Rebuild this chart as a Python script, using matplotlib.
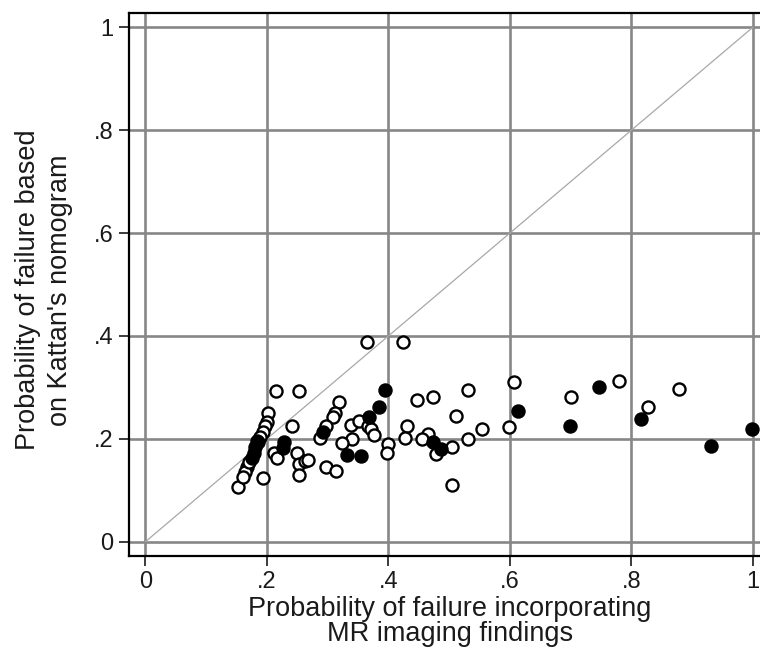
import numpy as np
import matplotlib
matplotlib.use('Agg')
import matplotlib.pyplot as plt

plt.rcParams['font.family'] = ['Liberation Sans', 'DejaVu Sans']

# open circles
x_open = [0.364, 0.424, 0.607, 0.531, 0.474, 0.447, 0.318, 0.312, 0.308, 0.511,
          0.298, 0.338, 0.352, 0.367, 0.372, 0.377, 0.431, 0.554, 0.599, 0.427,
          0.465, 0.455, 0.531, 0.340, 0.324, 0.400, 0.398, 0.504, 0.478, 0.297,
          0.313, 0.504, 0.700, 0.779, 0.828, 0.878, 0.215, 0.252, 0.202, 0.200,
          0.197, 0.194, 0.189, 0.186, 0.242, 0.287, 0.211, 0.216, 0.250, 0.253,
          0.263, 0.268, 0.253, 0.193, 0.153, 0.167, 0.164, 0.161, 0.170]
y_open = [0.389, 0.389, 0.310, 0.294, 0.282, 0.275, 0.272, 0.251, 0.242, 0.245,
          0.224, 0.227, 0.235, 0.225, 0.219, 0.207, 0.225, 0.220, 0.222, 0.202,
          0.210, 0.199, 0.199, 0.199, 0.191, 0.189, 0.173, 0.185, 0.170, 0.146,
          0.137, 0.111, 0.282, 0.313, 0.262, 0.297, 0.292, 0.292, 0.250, 0.233,
          0.224, 0.214, 0.204, 0.194, 0.225, 0.202, 0.172, 0.163, 0.173, 0.151,
          0.156, 0.158, 0.130, 0.123, 0.107, 0.146, 0.136, 0.126, 0.155]

# filled circles
x_fill = [0.395, 0.385, 0.368, 0.293, 0.332, 0.355, 0.474, 0.486, 0.613, 0.699,
          0.746, 0.816, 0.931, 0.998, 0.228, 0.226, 0.180, 0.178, 0.175, 0.183]
y_fill = [0.294, 0.262, 0.243, 0.214, 0.168, 0.167, 0.194, 0.180, 0.255, 0.224,
          0.301, 0.238, 0.186, 0.220, 0.193, 0.182, 0.184, 0.172, 0.162, 0.195]

ticks = [0, 0.2, 0.4, 0.6, 0.8, 1]
tick_labels = ['0', '.2', '.4', '.6', '.8', '1']

fig = plt.figure(figsize=(7.6, 6.48), dpi=100)
ax = fig.add_axes([0.1697, 0.142, 0.8426, 0.8384])

ax.set_xlim(-0.0272, 1.0272)
ax.set_ylim(-0.0278, 1.0284)

for t in ticks:
    ax.axvline(t, color='#878787', lw=1.9, zorder=1)
    ax.axhline(t, color='#878787', lw=1.9, zorder=1)

ax.plot([0, 1], [0, 1], color='#a8a8a8', lw=0.9, zorder=2)

ax.plot(x_open, y_open, 'o', mfc='white', mec='black', ms=8.7, mew=1.7, zorder=3)
ax.plot(x_fill, y_fill, 'o', mfc='black', mec='black', ms=8.7, mew=1.7, zorder=4)

ax.set_xticks(ticks)
ax.set_xticklabels(tick_labels)
ax.set_yticks(ticks)
ax.set_yticklabels(tick_labels)
ax.tick_params(direction='out', length=7, width=1.2, labelsize=17, pad=4, colors='#1a1a1a')
for s in ax.spines.values():
    s.set_linewidth(1.6)
    s.set_color('black')

# axis titles placed in pixel terms of the 760x648 canvas
W, H = 760.0, 648.0
fig.text(450 / W, 1 - 609 / H, 'Probability of failure incorporating', fontsize=19.5,
         color='#1a1a1a', ha='center', va='center')
fig.text(450 / W, 1 - 634 / H, 'MR imaging findings', fontsize=19.5,
         color='#1a1a1a', ha='center', va='center')
fig.text(28 / W, 1 - 290 / H, 'Probability of failure based', fontsize=19.5,
         color='#1a1a1a', ha='center', va='center', rotation=90)
fig.text(60 / W, 1 - 290 / H, "on Kattan's nomogram", fontsize=19.5,
         color='#1a1a1a', ha='center', va='center', rotation=90)

fig.savefig('out.png', dpi=100)
